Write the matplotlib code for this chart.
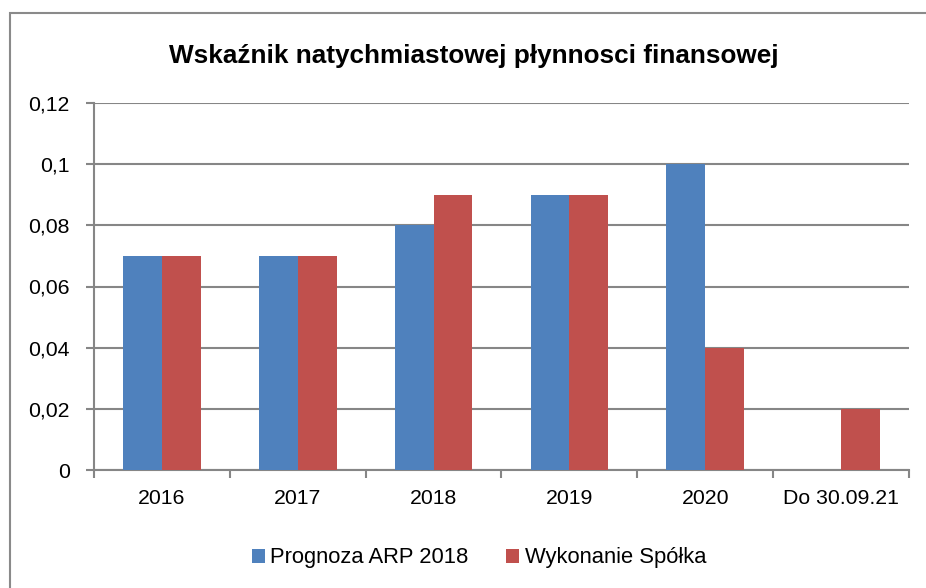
import matplotlib
matplotlib.use("Agg")
import matplotlib.pyplot as plt
import numpy as np
from matplotlib.patches import Rectangle
from matplotlib.ticker import FixedLocator, FuncFormatter

categories = ["2016", "2017", "2018", "2019", "2020", "Do 30.09.21"]
prognoza = [0.07, 0.07, 0.08, 0.09, 0.10, np.nan]
wykonanie = [0.07, 0.07, 0.09, 0.09, 0.04, 0.02]
series_names = ["Prognoza ARP 2018", "Wykonanie Spółka"]
yticks = [0, 0.02, 0.04, 0.06, 0.08, 0.10, 0.12]
title = "Wskaźnik natychmiastowej płynnosci finansowej"

plt.rcParams['font.family'] = ['Liberation Sans', 'DejaVu Sans']

W, H = 926, 588
fig = plt.figure(figsize=(W/100, H/100), dpi=100)
ax = fig.add_axes([94/W, (H-470)/H, (909-94)/W, (470-103)/H])

blue = "#4F81BD"
red = "#C0504D"
grid = "#868686"

x = np.arange(len(categories))
bw = 1/3.5
ax.bar(x - bw/2, prognoza, bw, color=blue, label=series_names[0], zorder=3)
ax.bar(x + bw/2, wykonanie, bw, color=red, label=series_names[1], zorder=3)

ax.set_xlim(-0.5, len(categories)-0.5)
ax.set_ylim(0, 0.12)
ax.set_yticks(yticks)
ax.yaxis.set_major_formatter(FuncFormatter(lambda v, p: ("0" if v == 0 else f"{v:.2f}".rstrip("0")).replace(".", ",")))
ax.yaxis.grid(True, color=grid, linewidth=1.5, zorder=0)
ax.set_axisbelow(True)

ax.set_xticks(x)
ax.set_xticklabels(categories)
ax.xaxis.set_minor_locator(FixedLocator(np.arange(-0.5, len(categories), 1.0)))
ax.tick_params(axis='x', which='major', length=0, pad=13.5, labelsize=15.3)
ax.tick_params(axis='x', which='minor', length=5.8, width=1.5, color=grid, direction='out')
ax.tick_params(axis='y', which='major', length=5.8, width=1.5, color=grid, pad=11.5, labelsize=15.3)

for s in ['top', 'right']:
    ax.spines[s].set_visible(False)
for s in ['left', 'bottom']:
    ax.spines[s].set_color(grid)
    ax.spines[s].set_linewidth(1.5)

fig.text(474/W, (H-63)/H, title, ha='center', va='baseline', fontsize=18.8, fontweight='bold')

fig.legend(loc='center', bbox_to_anchor=(479/W, (H-558)/H), ncol=2, frameon=False,
           fontsize=15.8, handlelength=0.6, handleheight=0.6, handletextpad=0.25,
           columnspacing=1.7)

fig.patches.append(Rectangle((10/W, -0.05), 1.1, (H-13)/H + 0.05, transform=fig.transFigure,
                             fill=False, edgecolor="#8a8a8a", linewidth=1.5, figure=fig))

fig.savefig("out.png", dpi=100)
